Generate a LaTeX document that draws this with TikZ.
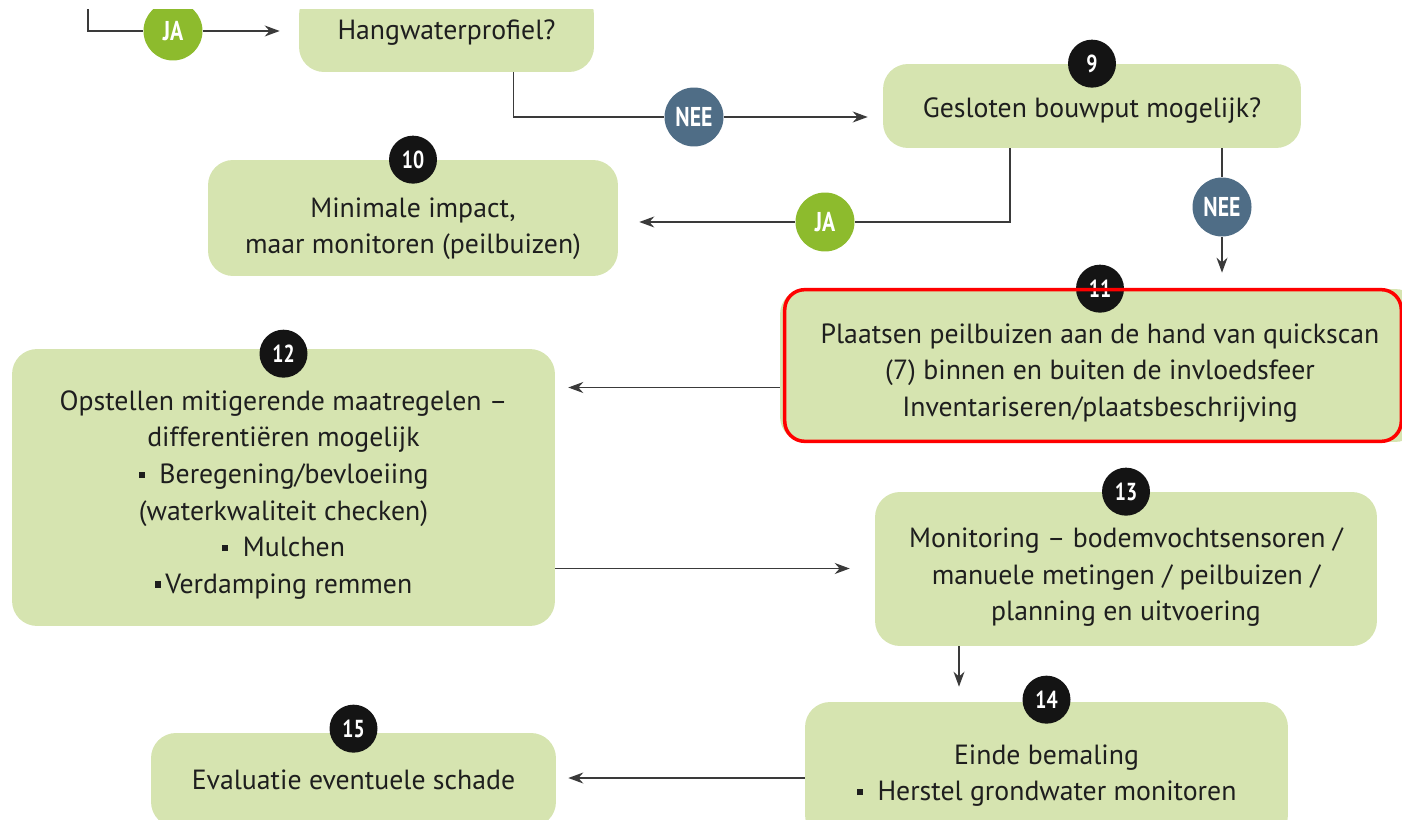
\documentclass[tikz,border=0pt]{standalone}
\usepackage{fontspec}
\setmainfont{PT Sans}
\usetikzlibrary{positioning,arrows.meta,calc}

\definecolor{boxgreen}{HTML}{D6E4B0}
\definecolor{jagreen}{HTML}{8DBB2D}
\definecolor{neeblue}{HTML}{4F6D86}
\definecolor{linegray}{HTML}{3A3A3A}
\definecolor{txt}{HTML}{1E1E1E}
\newcommand{\sqb}{\rule[0.2em]{0.22em}{0.22em}}
\newcommand{\cnd}[1]{\scalebox{0.8}[1]{#1}}
% strut that pushes the text of a box down by #1
\newcommand{\dn}[1]{\rule{0pt}{\dimexpr 11.6pt+#1*2\relax}}

\begin{document}
\begin{tikzpicture}[
  x=0.02cm, y=-0.02cm,
  font=\fontsize{15.8pt}{20.8pt}\selectfont,
  >={Stealth[length=3mm,width=2.2mm]},
  box/.style={fill=boxgreen,rounded corners=0.5cm,align=center,text=txt,inner sep=0pt},
  badge/.style={circle,fill=black!92,text=white,minimum size=0.96cm,inner sep=0pt,
                font=\fontsize{14pt}{14pt}\selectfont\bfseries},
  jabub/.style={circle,fill=jagreen,text=white,minimum size=1.18cm,inner sep=0pt,
                font=\fontsize{15.5pt}{15.5pt}\selectfont\bfseries},
  neebub/.style={jabub,fill=neeblue},
  flow/.style={->,linegray,line width=0.8pt},
]
\useasboundingbox (0,0) rectangle (1402,820);
\clip (0,10) rectangle (1402,820);

% --- steps ---
\node[box,minimum width=5.9cm,minimum height=1.64cm] (hang) at (446.5,31) {\dn{0.6pt}Hangwaterprofiel?};
\node[box,minimum width=8.36cm,minimum height=1.68cm] (n9) at (1092,106) {\dn{2.3pt}Gesloten bouwput mogelijk?};
\node[box,minimum width=8.2cm,minimum height=2.32cm] (n10) at (413,218)
  {\dn{6pt}Minimale impact,\\maar monitoren (peilbuizen)};
\node[box,minimum width=12.8cm,minimum height=3.06cm] (n11) at (1100,365.5)
  {\dn{4pt}Plaatsen peilbuizen aan de hand van quickscan\\(7) binnen en buiten de invloedsfeer\\Inventariseren/plaatsbeschrijving};
\node[box,minimum width=10.86cm,minimum height=5.54cm] (n12) at (283.5,487.5)
  {\dn{4pt}Opstellen mitigerende maatregelen --\\differentiëren mogelijk\\\sqb\ \ Beregening/bevloeiing\\(waterkwaliteit checken)\\\sqb\ \ Mulchen\\\sqb\,Verdamping remmen};
\node[box,minimum width=10.04cm,minimum height=3.08cm] (n13) at (1126,569)
  {\dn{4.6pt}Monitoring -- bodemvochtsensoren /\\manuele metingen / peilbuizen /\\planning en uitvoering};
\node[box,minimum width=9.66cm,minimum height=2.76cm] (n14) at (1046.5,771)
  {\dn{2.3pt}Einde bemaling\\\sqb\ \ Herstel grondwater monitoren};
\node[box,minimum width=8.1cm,minimum height=1.88cm] (n15) at (353.5,780) {Evaluatie eventuele schade};

% --- number badges ---
\node[badge] (b9)  at (n9.north)  {\cnd{9}};
\node[badge] (b10) at (n10.north) {\cnd{10}};
\node[badge] (b11) at (n11.north) {\cnd{11}};
\node[badge] (b12) at ($(n12.north)+(0,5)$) {\cnd{12}};
\node[badge] (b13) at (n13.north) {\cnd{13}};
\node[badge] (b14) at ($(n14.north)+(0,-2)$) {\cnd{14}};
\node[badge] (b15) at ($(n15.north)+(0,-4)$) {\cnd{15}};

% --- ja / nee ---
\node[jabub]  (ja1)  at (173,31)  {\cnd{JA}};
\node[neebub] (nee1) at (694,117) {\cnd{NEE}};
\node[jabub]  (ja2)  at (825,222) {\cnd{JA}};
\node[neebub] (nee2) at (1222,207) {\cnd{NEE}};

% --- arrows ---
\coordinate (in1) at (88,0);
\draw[flow,-] (in1) |- (ja1);
\draw[flow,shorten >=0.38cm] (ja1) -- (hang);
\draw[flow,-] ($(hang.south)+(67,0)$) |- (nee1);
\draw[flow,shorten >=0.3cm] (nee1) -- (nee1 -| n9.west);
\draw[flow,-] ($(n9.south)+(-82,0)$) |- (ja2);
\draw[flow,shorten >=0.42cm] (ja2) -- (ja2 -| n10.east);
\draw[flow,-] (n9.south -| nee2) -- (nee2);
\draw[flow,shorten >=0.32cm] (nee2) -- (nee2 |- n11.north);
\draw[flow,shorten >=0.26cm] ($(n11.west)+(0,22)$) coordinate (p11) -- (p11 -| n12.east);
\draw[flow,shorten >=0.5cm] ($(n12.east)+(0,81)$) coordinate (p12) -- (p12 -| n13.west);
\draw[flow,shorten >=0.3cm] ($(n13.south)+(-167,0)$) coordinate (p13) -- (p13 |- n14.north);
\draw[flow,shorten >=0.24cm] ($(n14.west)+(0,7)$) coordinate (p14) -- (p14 -| n15.east);

% --- red frame round step 11 ---
\draw[red,line width=2pt,rounded corners=0.4cm]
  ($(n11.north west)+(5,1)$) rectangle ($(n11.south east)+(-19,-1)$);
\end{tikzpicture}
\end{document}
